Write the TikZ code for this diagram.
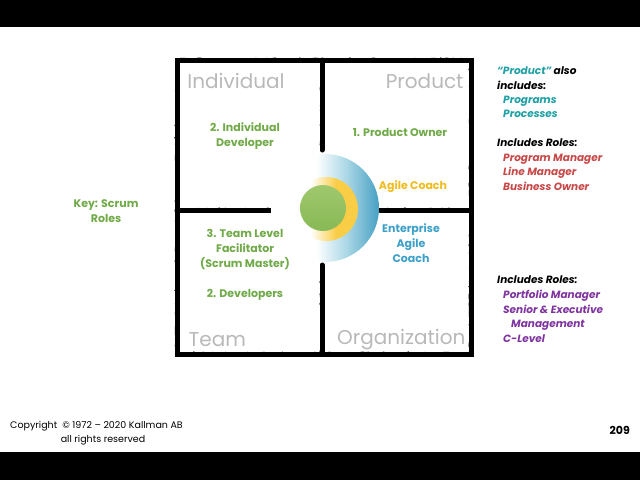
\documentclass[tikz,border=0pt]{standalone}
\usepackage{fontspec}
\setmainfont{Poppins}
\usetikzlibrary{decorations.pathmorphing}
\definecolor{gtxt}{RGB}{112,170,72}
\definecolor{graylbl}{RGB}{185,185,185}
\definecolor{teal}{RGB}{30,160,165}
\definecolor{redr}{RGB}{200,72,72}
\definecolor{purp}{RGB}{128,52,160}
\definecolor{yell}{RGB}{240,188,30}
\definecolor{bluet}{RGB}{60,160,200}
\definecolor{bluel}{RGB}{170,215,230}
\definecolor{blued}{RGB}{70,160,195}
\definecolor{yellw}{RGB}{250,205,70}
\definecolor{greenc}{RGB}{135,185,85}
\definecolor{greenl}{RGB}{160,200,110}
\pgfdeclarehorizontalshading{bluefade}{100bp}{color(0bp)=(white); color(25bp)=(white); color(46bp)=(white); color(60bp)=(bluel); color(75bp)=(blued); color(100bp)=(blued)}
\pgfdeclarehorizontalshading{yellfade}{100bp}{color(0bp)=(white); color(25bp)=(white); color(38bp)=(white); color(58bp)=(yellw); color(75bp)=(yellw); color(100bp)=(yellw)}
\tikzset{
  frameline/.style={line width=5pt, line cap=round, black},
  roughline/.style={line width=2.5pt, black, decorate, decoration={random steps, segment length=3pt, amplitude=1.2pt}},
  biglbl/.style={font=\fontsize{20}{22}\selectfont, text=graylbl},
  role/.style={font=\fontsize{11}{15}\selectfont\bfseries, text=gtxt, align=center},
  side/.style={font=\fontsize{10.5}{13}\selectfont\bfseries\itshape, anchor=base west, inner sep=0pt},
  foot/.style={font=\fontsize{9.5}{11}\selectfont, inner sep=0pt}
}
\begin{document}
\begin{tikzpicture}[x=1pt,y=-1pt]
\useasboundingbox (0,0) rectangle (640,480);
\fill[white] (0,0) rectangle (640,480);
\fill[black] (0,0) rectangle (640,27);
\fill[black] (0,452) rectangle (640,480);
% frame
\draw[frameline] (177,60) -- (471,60) -- (471,354) -- (177,354) -- cycle;
\draw[roughline] (177,60) -- (471,60) -- (471,354) -- (177,354) -- cycle;
\draw[frameline] (322,60) -- (322,150);
\draw[frameline] (322,265) -- (322,354);
\draw[roughline] (322,60) -- (322,150);
\draw[roughline] (322,265) -- (322,354);
\draw[frameline] (177,210) -- (272,210);
\draw[roughline] (177,210) -- (272,210);
\draw[line width=5pt, gray!60] (272,210) -- (290,210);
\draw[frameline] (380,210) -- (471,210);
\draw[roughline] (380,210) -- (471,210);
% circles
\shade[shading=bluefade] (325,208) circle[radius=54];
\shade[shading=yellfade] (326,209) circle[radius=32];
\shade[top color=greenl, bottom color=greenc] (323,208) circle[radius=23];
% quadrant labels
\node[biglbl] (ind) at (236,81) {Individual};
\node[biglbl, anchor=east] (prod) at (467,81) {Product};
\node[biglbl, anchor=west] (team) at (185,340) {Team};
\node[biglbl, anchor=east] (org) at (469,340) {Organization};
% roles
\node[role] (idev) at (245,136) {2. Individual\\Developer};
\node[role] (po) at (400,132) {1. Product Owner};
\node[role, text=yell] (ac) at (413,187) {Agile Coach};
\node[role] (key) at (106,211) {Key: Scrum\\Roles};
\node[role] (sm) at (245,250) {3. Team Level\\Facilitator\\(Scrum Master)};
\node[role] (devs) at (245,295) {2. Developers};
\node[role, text=bluet] (eac) at (411,243) {Enterprise\\Agile\\Coach};
% side notes
\node[side, text=teal] (s1) at (497,74) {“Product”\ \textcolor{black}{also}};
\node[side] (s2) at (497,89) {includes:};
\node[side, text=teal] (s3) at (503,103) {Programs};
\node[side, text=teal] (s4) at (503,117) {Processes};
\node[side] (s5) at (497,146) {Includes Roles:};
\node[side, text=redr] (s6) at (503,161) {Program Manager};
\node[side, text=redr] (s7) at (503,175) {Line Manager};
\node[side, text=redr] (s8) at (503,190) {Business Owner};
\node[side] (s9) at (497,283) {Includes Roles:};
\node[side, text=purp] (s10) at (503,298) {Portfolio Manager};
\node[side, text=purp] (s11) at (503,313) {Senior \& Executive};
\node[side, text=purp] (s12) at (511,327) {Management};
\node[side, text=purp] (s13) at (503,342) {C-Level};
% footer
\node[foot, anchor=west] (cp) at (10,426) {Copyright \ © 1972 – 2020 Kallman AB};
\node[foot] (ar) at (103,440) {all rights reserved};
\node[font=\fontsize{11}{13}\selectfont\bfseries, anchor=east, inner sep=0pt] (pg) at (630,430) {209};
\end{tikzpicture}
\end{document}
